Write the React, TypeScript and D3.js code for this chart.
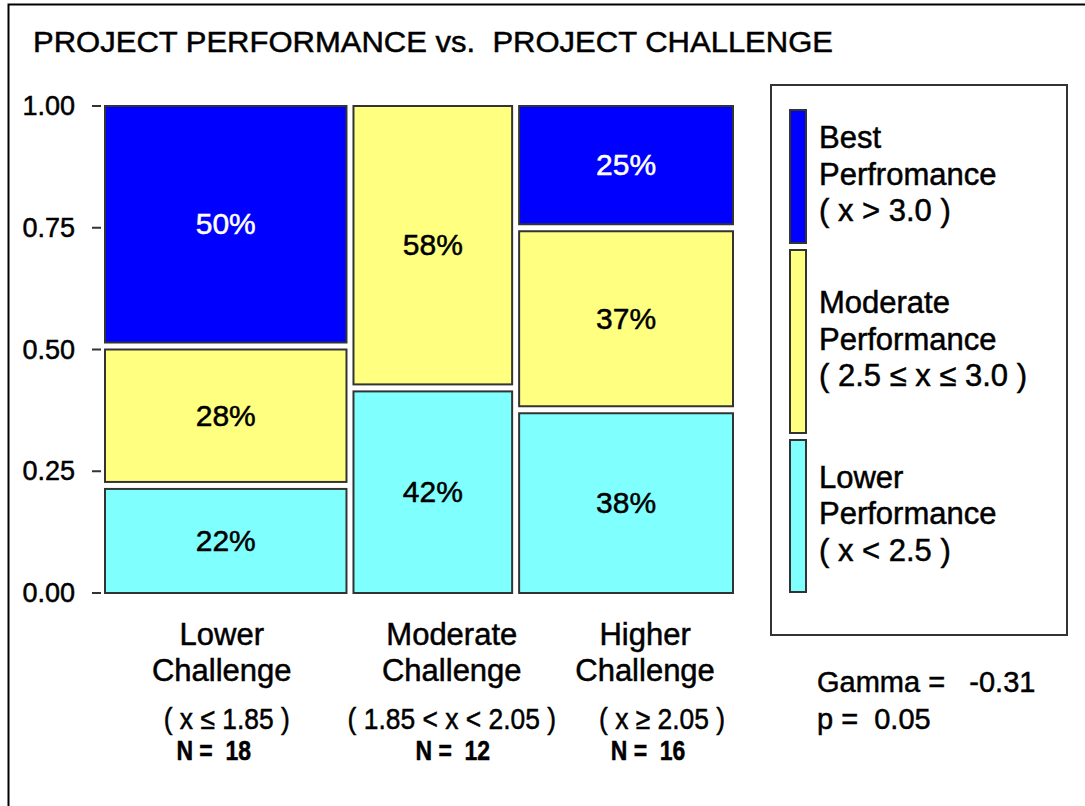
import * as d3 from 'd3';
import React, { useEffect, useRef } from 'react';

// chart data
const categoryLines = [['Lower', 'Challenge'], ['Moderate', 'Challenge'], ['Higher', 'Challenge']];
const rangeLabels = ['( x \u2264 1.85 )', '( 1.85 < x < 2.05 )', '( x \u2265 2.05 )'];
const counts = [18, 12, 16];
const lowerPerf = [22, 42, 38];
const moderatePerf = [28, 58, 37];
const bestPerf = [50, 0, 25];
const yTicks = [0, 0.25, 0.5, 0.75, 1];
const legendLines = [
  ['Best', 'Perfromance', '( x > 3.0 )'],
  ['Moderate', 'Performance', '( 2.5 \u2264 x \u2264 3.0 )'],
  ['Lower', 'Performance', '( x < 2.5 )'],
];
const gammaText = 'Gamma =   -0.31';
const pText = 'p =  0.05';
const titleText = 'PROJECT PERFORMANCE vs.  PROJECT CHALLENGE';

const colors = { best: '#0000ff', moderate: '#ffff80', lower: '#80ffff' };
const FONT = '"Liberation Sans", Arial, sans-serif';

const App = () => {
  const svgRef = useRef<SVGSVGElement>(null);

  useEffect(() => {
    const svg = d3.select(svgRef.current);
    svg.selectAll('*').remove();

    const width = 1085;
    const height = 806;
    const top = 106, bottom = 593, left = 105, right = 733;
    const gap = 7;

    svg.attr('width', width).attr('height', height)
      .style('font-family', FONT);

    // heavier text, like the old screen rendering; keep the double spaces
    const txt = (sel, fill = '#000') =>
      sel.attr('fill', fill).attr('stroke', fill).attr('stroke-width', 0.5)
        .attr('xml:space', 'preserve')
        .style('white-space', 'pre');

    // outer frame (top + left only)
    svg.append('path')
      .attr('d', `M8.5,${height} V4.5 H${width}`)
      .attr('fill', 'none')
      .attr('stroke', '#000')
      .attr('stroke-width', 2);

    txt(svg.append('text')
      .attr('x', 33).attr('y', 52)
      .attr('font-size', 30)
      .attr('textLength', 800)
      .attr('lengthAdjust', 'spacingAndGlyphs')
      .text(titleText));

    // y axis ticks
    const y = d3.scaleLinear().domain([0, 1]).range([bottom, top]);
    const tickG = svg.append('g');
    yTicks.forEach(t => {
      tickG.append('line')
        .attr('x1', 92).attr('x2', 101)
        .attr('y1', y(t)).attr('y2', y(t))
        .attr('stroke', '#333').attr('stroke-width', 2);
      txt(tickG.append('text')
        .attr('x', 75).attr('y', y(t) + 2)
        .attr('text-anchor', 'end')
        .attr('dominant-baseline', 'middle')
        .attr('font-size', 27)
        .text(d3.format('.2f')(t)));
    });

    // column widths proportional to N
    const total = d3.sum(counts);
    const cum = d3.cumsum(counts);
    const x = d3.scaleLinear().domain([0, total]).range([left, right + gap]);
    const cols = counts.map((n, i) => ({
      x0: x(cum[i] - n),
      x1: x(cum[i]) - gap,
    }));

    const plot = svg.append('g');
    cols.forEach((c, i) => {
      const segs = [
        { v: lowerPerf[i], fill: colors.lower, tc: '#000' },
        { v: moderatePerf[i], fill: colors.moderate, tc: '#000' },
        { v: bestPerf[i], fill: colors.best, tc: '#fff' },
      ].filter(s => s.v > 0);
      const avail = (bottom - top) - gap * (segs.length - 1);
      const h = d3.scaleLinear().domain([0, d3.sum(segs, s => s.v)]).range([0, avail]);
      let yb = bottom;
      segs.forEach(s => {
        const hh = h(s.v);
        plot.append('rect')
          .attr('x', c.x0).attr('y', yb - hh)
          .attr('width', c.x1 - c.x0).attr('height', hh)
          .attr('fill', s.fill)
          .attr('stroke', '#333').attr('stroke-width', 2);
        txt(plot.append('text')
          .attr('x', (c.x0 + c.x1) / 2).attr('y', yb - hh / 2 + 2)
          .attr('text-anchor', 'middle')
          .attr('dominant-baseline', 'middle')
          .attr('font-size', 30)
          .text(`${s.v}%`), s.tc);
        yb -= hh + gap;
      });
    });

    // category labels under the columns
    const catShift = [-4, 19, 19];
    const rangeShift = [1, 19, 36];
    const nShift = [-12, 20, 22];
    const narrow = (cx: number, k: number) => `translate(${cx},0) scale(${k},1) translate(${-cx},0)`;
    cols.forEach((c, i) => {
      const cx = (c.x0 + c.x1) / 2;
      categoryLines[i].forEach((line, j) => {
        txt(svg.append('text')
          .attr('x', cx + catShift[i]).attr('y', 637 + j * 36)
          .attr('text-anchor', 'middle')
          .attr('dominant-baseline', 'middle')
          .attr('font-size', 31)
          .text(line));
      });
      txt(svg.append('text')
        .attr('x', cx + rangeShift[i]).attr('y', 721)
        .attr('text-anchor', 'middle')
        .attr('dominant-baseline', 'middle')
        .attr('font-size', 30)
        .attr('transform', narrow(cx + rangeShift[i], 0.88))
        .text(rangeLabels[i]));
      txt(svg.append('text')
        .attr('x', cx + nShift[i]).attr('y', 753)
        .attr('text-anchor', 'middle')
        .attr('dominant-baseline', 'middle')
        .attr('font-size', 28)
        .attr('font-weight', 'bold')
        .attr('transform', narrow(cx + nShift[i], 0.82))
        .text(`N =  ${counts[i]}`));
    });

    // legend
    svg.append('rect')
      .attr('x', 771).attr('y', 85)
      .attr('width', 296).attr('height', 550)
      .attr('fill', '#fff')
      .attr('stroke', '#333').attr('stroke-width', 2);

    const legendFills = [colors.best, colors.moderate, colors.lower];
    const swatchH = [133, 183, 152];
    let ly = 110;
    legendLines.forEach((lines, i) => {
      svg.append('rect')
        .attr('x', 790).attr('y', ly)
        .attr('width', 16).attr('height', swatchH[i])
        .attr('fill', legendFills[i])
        .attr('stroke', '#333').attr('stroke-width', 2);
      const cy = ly + swatchH[i] / 2;
      lines.forEach((line, j) => {
        txt(svg.append('text')
          .attr('x', 819).attr('y', cy + (j - 1) * 36.5)
          .attr('dominant-baseline', 'middle')
          .attr('font-size', 31)
          .text(line));
      });
      ly += swatchH[i] + gap;
    });

    txt(svg.append('text')
      .attr('x', 817).attr('y', 684)
      .attr('dominant-baseline', 'middle')
      .attr('font-size', 29)
      .text(gammaText));
    txt(svg.append('text')
      .attr('x', 817).attr('y', 721)
      .attr('dominant-baseline', 'middle')
      .attr('font-size', 29)
      .text(pText));
  }, []);

  return (
    <svg ref={svgRef} style={{ position: 'absolute', left: 0, top: 0, background: '#fff' }}></svg>
  );
};

export default App;
